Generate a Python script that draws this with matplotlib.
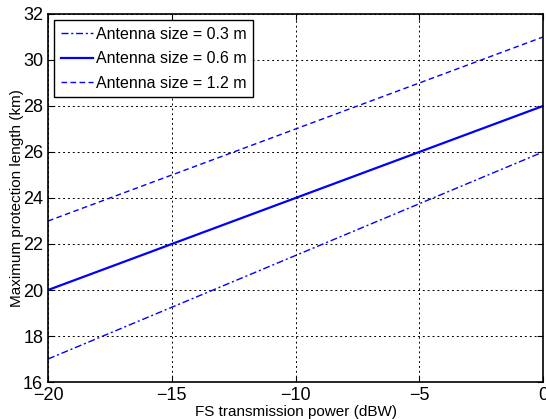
import matplotlib
matplotlib.use('Agg')
import matplotlib.pyplot as plt

# FS transmission power (dBW) vs maximum protection length (km)
power = [-20, 0]
len_03 = [17, 26]
len_06 = [20, 28]
len_12 = [23, 31]

plt.rcParams['font.family'] = ['Liberation Sans', 'DejaVu Sans']

fig = plt.figure(figsize=(5.46, 4.19), dpi=100)
ax = fig.add_axes([0.088, 0.0883, 0.9065, 0.8783])

ax.plot(power, len_03, color='#0000ff', linestyle=(0, (5, 2, 1.5, 2)), linewidth=1, label='Antenna size = 0.3 m')
ax.plot(power, len_06, color='#0000ff', linestyle='-', linewidth=1.6, label='Antenna size = 0.6 m')
ax.plot(power, len_12, color='#0000ff', linestyle=(0, (4, 2.5)), linewidth=1, label='Antenna size = 1.2 m')

ax.set_xlim(-20, 0)
ax.set_ylim(16, 32)
ax.set_xticks([-20, -15, -10, -5, 0])
ax.set_yticks(range(16, 33, 2))
ax.grid(True, color='black', linestyle=(0, (2, 3)), linewidth=0.7)
ax.tick_params(direction='in', labelsize=13, length=4, top=True, right=True)
for s in ax.spines.values():
    s.set_linewidth(1.2)

ax.set_xlabel('FS transmission power (dBW)', fontsize=11, labelpad=1)
ax.set_ylabel('Maximum protection length (km)', fontsize=11, labelpad=-1)

leg = ax.legend(loc='upper left', fontsize=11.5, fancybox=False, framealpha=1,
                edgecolor='black', handlelength=2.0, borderaxespad=0.4,
                labelspacing=0.6, handletextpad=0.2, borderpad=0.4)
leg.get_frame().set_linewidth(1)

fig.savefig('out.png', dpi=100)
